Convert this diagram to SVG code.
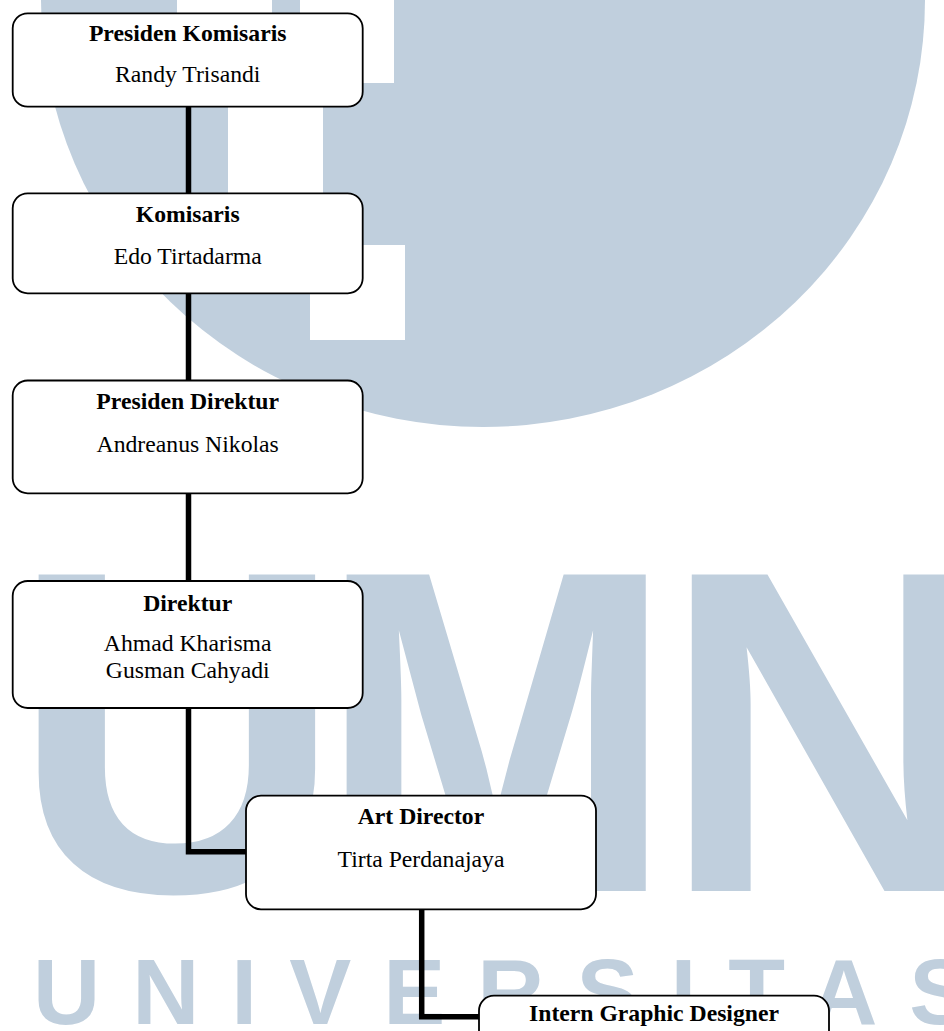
<svg xmlns="http://www.w3.org/2000/svg" width="944" height="1031" viewBox="0 0 944 1031">
  <style>
    .wm { fill: #c0cfdd; }
    .wmcut { fill: #ffffff; }
    .box { fill: #ffffff; stroke: #000000; stroke-width: 1.8; }
    .conn { fill: none; stroke: #000000; stroke-width: 5.5; stroke-linejoin: miter; }
    .title { font-family: "Liberation Serif", "Times New Roman", serif; font-weight: bold; font-size: 23.7px; text-anchor: middle; fill: #000000; }
    .name { font-family: "Liberation Serif", "Times New Roman", serif; font-size: 23.7px; text-anchor: middle; fill: #000000; }
    .wmtext { font-family: "Liberation Sans", Arial, sans-serif; font-weight: bold; fill: #c0cfdd; }
  </style>
  <rect x="0" y="0" width="944" height="1031" fill="#ffffff"/>
  <g id="watermark">
    <ellipse class="wm" cx="483" cy="0" rx="442" ry="427"/>
    <rect class="wmcut" x="177" y="-12" width="95" height="95"/>
    <rect class="wmcut" x="300" y="-12" width="94" height="95"/>
    <rect class="wmcut" x="228" y="98" width="95" height="95"/>
    <rect class="wmcut" x="310" y="245" width="95" height="95"/>
    <text class="wmtext" x="11" y="891" font-size="460">U</text>
    <text class="wmtext" x="0" y="0" font-size="460" transform="translate(318,891) scale(0.93,1)">M</text>
    <text class="wmtext" x="661" y="891" font-size="460">N</text>
    <text class="wmtext" x="33" y="1024" font-size="93" letter-spacing="32">UNIVERSITAS</text>
  </g>
  <g id="connectors">
    <line class="conn" x1="188.5" y1="106" x2="188.5" y2="194"/>
    <line class="conn" x1="188.5" y1="293" x2="188.5" y2="381"/>
    <line class="conn" x1="188.5" y1="493" x2="188.5" y2="582"/>
    <polyline class="conn" points="188.5,708 188.5,851.7 247,851.7"/>
    <polyline class="conn" points="421.7,909 421.7,1016.7 480,1016.7"/>
  </g>
  <g id="node-presiden-komisaris">
    <rect class="box" x="12.7" y="13.3" width="350" height="93.4" rx="15" ry="15"/>
    <text class="title" x="187.7" y="41">Presiden Komisaris</text>
    <text class="name" x="187.7" y="81.7">Randy Trisandi</text>
  </g>
  <g id="node-komisaris">
    <rect class="box" x="12.7" y="193.3" width="350" height="100" rx="15" ry="15"/>
    <text class="title" x="187.7" y="221.7">Komisaris</text>
    <text class="name" x="187.7" y="264">Edo Tirtadarma</text>
  </g>
  <g id="node-presiden-direktur">
    <rect class="box" x="12.7" y="380.5" width="350" height="112.8" rx="15" ry="15"/>
    <text class="title" x="187.7" y="409.3">Presiden Direktur</text>
    <text class="name" x="187.7" y="451.7">Andreanus Nikolas</text>
  </g>
  <g id="node-direktur">
    <rect class="box" x="12.7" y="581" width="350" height="127" rx="15" ry="15"/>
    <text class="title" x="187.7" y="610.7">Direktur</text>
    <text class="name" x="187.7" y="650.7">Ahmad Kharisma</text>
    <text class="name" x="187.7" y="677.7">Gusman Cahyadi</text>
  </g>
  <g id="node-art-director">
    <rect class="box" x="246" y="795.7" width="350" height="113.6" rx="15" ry="15"/>
    <text class="title" x="421" y="824">Art Director</text>
    <text class="name" x="421" y="866.7">Tirta Perdanajaya</text>
  </g>
  <g id="node-intern-graphic-designer">
    <rect class="box" x="479" y="995.7" width="350" height="130" rx="15" ry="15"/>
    <text class="title" x="654" y="1020.7">Intern Graphic Designer</text>
  </g>
</svg>
